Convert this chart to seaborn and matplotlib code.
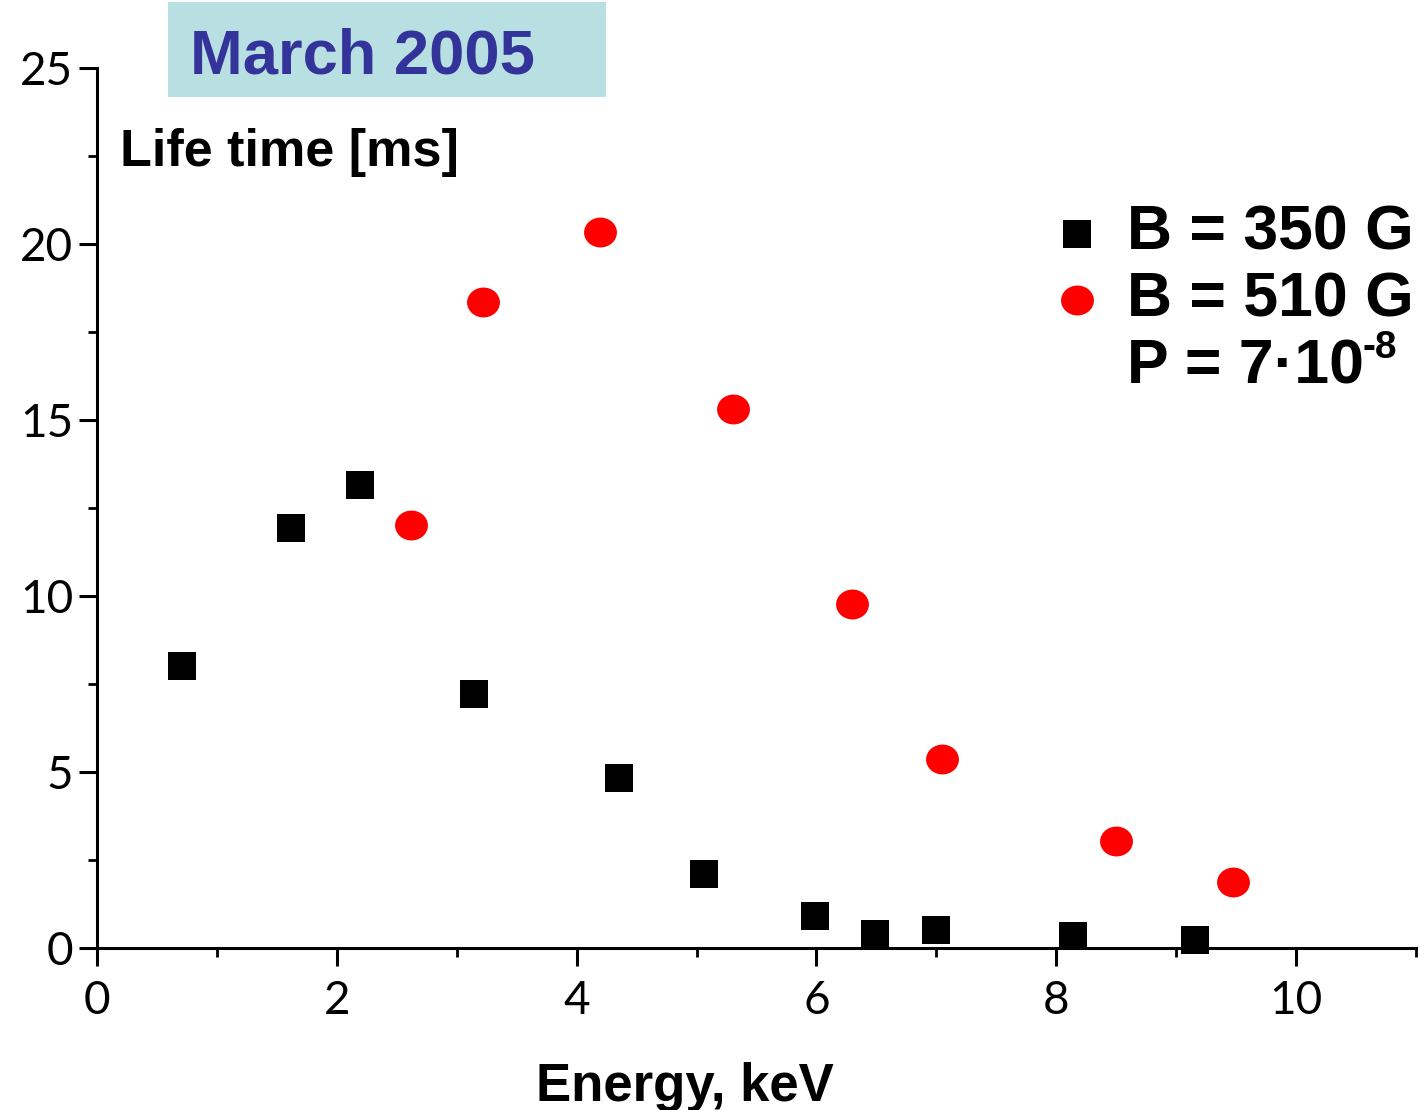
import numpy as np
import pandas as pd
import matplotlib
matplotlib.use("Agg")
import matplotlib.pyplot as plt
from matplotlib.path import Path
from matplotlib.patches import Rectangle
from matplotlib.ticker import MultipleLocator
import seaborn as sns

# ---- data ----
energy_350 = [0.71, 1.62, 2.19, 3.14, 4.35, 5.06, 5.99, 6.49, 7.00, 8.14, 9.16]
life_350 = [8.01, 11.93, 13.15, 7.22, 4.83, 2.10, 0.91, 0.40, 0.51, 0.34, 0.23]
energy_510 = [2.62, 3.22, 4.195, 5.30, 6.30, 7.05, 8.50, 9.47]
life_510 = [12.02, 18.35, 20.34, 15.31, 9.77, 5.37, 3.04, 1.88]
series_labels = ["B = 350 G", "B = 510 G"]
x_ticks = [0, 2, 4, 6, 8, 10]
y_ticks = [0, 5, 10, 15, 20, 25]
title_text = "March 2005"
ylabel_text = "Life time [ms]"
xlabel_text = "Energy, keV"
pressure_text = "P = 7\u00b710"
pressure_exp = "-8"

df350 = pd.DataFrame({"energy": energy_350, "life": life_350})
df510 = pd.DataFrame({"energy": energy_510, "life": life_510})

sns.set_theme(style="ticks")
plt.rcParams["font.family"] = ["Liberation Sans", "DejaVu Sans"]

W, H = 1426, 1110
fig = plt.figure(figsize=(W / 100, H / 100), dpi=100)
ax = fig.add_axes([97 / W, 1 - 948 / H, (1416 - 97) / W, (948 - 68) / H])

# slightly wide ellipse marker
circ = Path.unit_circle()
ellipse = Path(circ.vertices * np.array([1.1, 1.0]), circ.codes)

sns.scatterplot(data=df350, x="energy", y="life", ax=ax, marker="s", s=420,
                color="black", linewidth=0, label=series_labels[0],
                clip_on=False, zorder=5)
sns.scatterplot(data=df510, x="energy", y="life", ax=ax, marker=ellipse, s=560,
                color="#ff0000", linewidth=0, label=series_labels[1],
                clip_on=False, zorder=5)

ax.set_xlim(0, 11)
ax.set_ylim(0, 25)
ax.set_xticks(x_ticks)
ax.set_yticks(y_ticks)
ax.xaxis.set_minor_locator(MultipleLocator(1))
ax.yaxis.set_minor_locator(MultipleLocator(2.5))
ax.set_xlabel("")
ax.set_ylabel("")

for s in ["top", "right"]:
    ax.spines[s].set_visible(False)
for s in ["left", "bottom"]:
    ax.spines[s].set_linewidth(2.2)
    ax.spines[s].set_color("black")

ax.tick_params(axis="both", which="major", direction="out", length=13,
               width=2.2, color="black", labelsize=33, labelcolor="black")
ax.tick_params(axis="both", which="minor", direction="out", length=6.5,
               width=2.0, color="black")
ax.tick_params(axis="x", which="major", pad=10)
ax.tick_params(axis="y", which="major", pad=4)
for lab in ax.get_xticklabels() + ax.get_yticklabels():
    lab.set_fontfamily(["Lato", "DejaVu Sans"])
    lab.set_fontweight("normal")

# legend
leg = ax.legend(loc="upper left", bbox_to_anchor=(1047 / W, 1 - 204 / H),
                bbox_transform=fig.transFigure, frameon=False,
                prop={"family": "Liberation Sans", "weight": "bold", "size": 45},
                handlelength=0.95, handletextpad=0.33, borderpad=0,
                borderaxespad=0, labelspacing=0.12, markerscale=1.0)
for t in leg.get_texts():
    t.set_color("black")

fig.text(1127 / W, 1 - 384 / H, pressure_text, fontsize=45, fontweight="bold",
         ha="left", va="baseline", color="black")
fig.text(1363 / W, 1 - 358 / H, pressure_exp, fontsize=28, fontweight="bold",
         ha="left", va="baseline", color="black")

# title box
fig.patches.append(Rectangle((168 / W, 1 - 97 / H), (606 - 168) / W, 95 / H,
                             transform=fig.transFigure, facecolor="#b8e0e3",
                             edgecolor="none", zorder=0))
fig.text(190 / W, 1 - 73 / H, title_text, fontsize=45.5, fontweight="bold",
         color="#333399", ha="left", va="baseline")

fig.text(120 / W, 1 - 166 / H, ylabel_text, fontsize=37.5, fontweight="bold",
         color="black", ha="left", va="baseline")
fig.text(685 / W, 1 - 1101 / H, xlabel_text, fontsize=38, fontweight="bold",
         color="black", ha="center", va="baseline")

fig.savefig("out.png", dpi=100, facecolor="white")
